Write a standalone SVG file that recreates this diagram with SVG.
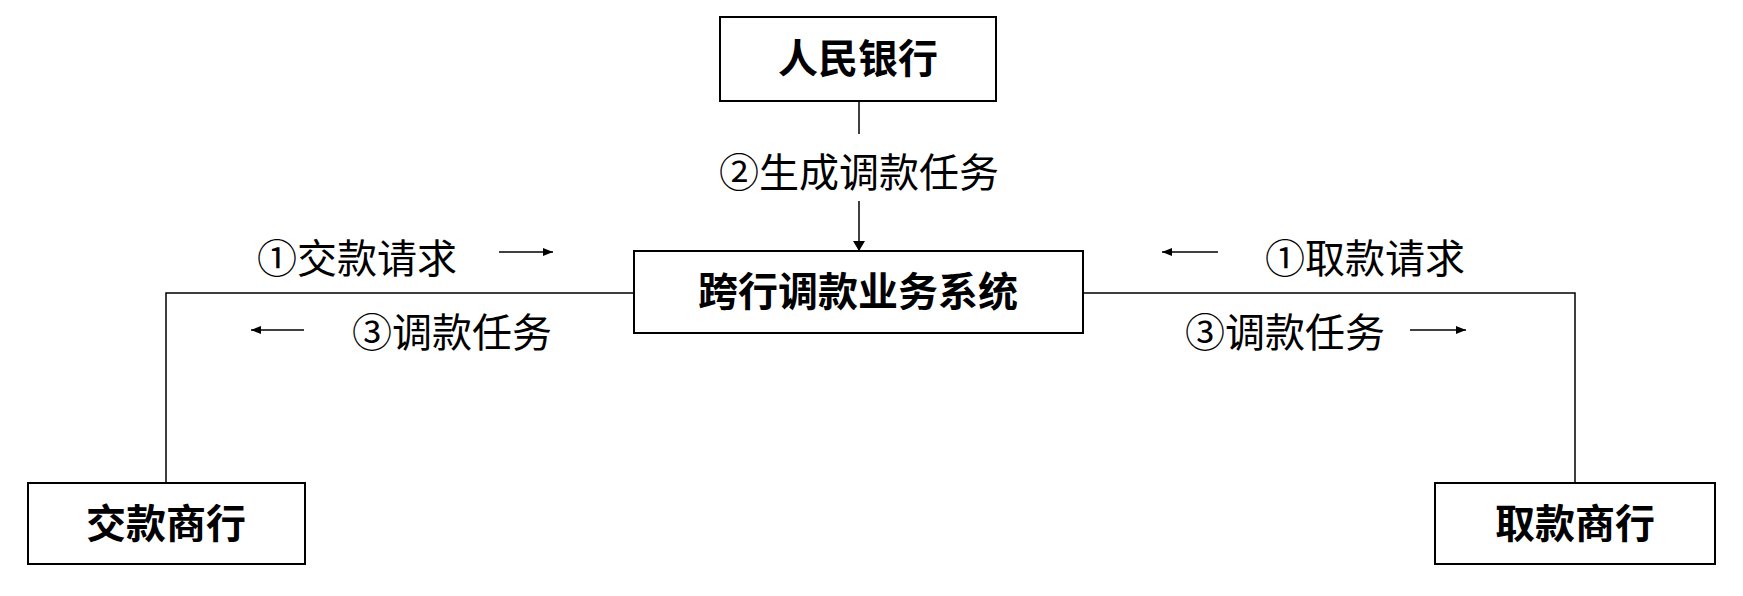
<svg xmlns="http://www.w3.org/2000/svg" width="1743" height="596" viewBox="0 0 1743 596">
<style>
.box{fill:#fff;stroke:#000;stroke-width:2}
.nt{font-family:"Liberation Sans","Noto Sans CJK SC",sans-serif;font-size:40px;font-weight:bold;text-anchor:middle;dominant-baseline:central}
.lb{font-family:"Liberation Sans","Noto Sans CJK SC",sans-serif;font-size:40px;text-anchor:middle;dominant-baseline:central}
.ln{stroke:#000;stroke-width:1.5;fill:none}
</style>
<defs>
<marker id="big" markerWidth="10" markerHeight="12" refX="10" refY="6" orient="auto" markerUnits="userSpaceOnUse" viewBox="0 0 10 12"><path d="M0,0L10,6L0,12z" fill="#000"/></marker>
<marker id="sm" markerWidth="10" markerHeight="10" refX="10" refY="5" orient="auto" markerUnits="userSpaceOnUse" viewBox="0 0 10 10"><path d="M0,1L10,5L0,9z" fill="#000"/></marker>
</defs>
<g id="connectors">
<line class="ln" x1="859" y1="101" x2="859" y2="134"/>
<line class="ln" x1="859" y1="201" x2="859" y2="251" marker-end="url(#big)"/>
<polyline class="ln" points="634,293 166,293 166,483"/>
<polyline class="ln" points="1083,293 1575,293 1575,483"/>
<line class="ln" x1="499" y1="252" x2="553" y2="252" marker-end="url(#sm)"/>
<line class="ln" x1="304" y1="330" x2="251" y2="330" marker-end="url(#sm)"/>
<line class="ln" x1="1218" y1="252" x2="1162" y2="252" marker-end="url(#sm)"/>
<line class="ln" x1="1410" y1="330" x2="1466" y2="330" marker-end="url(#sm)"/>
<text class="lb" x="859" y="173">②生成调款任务</text>
<text class="lb" x="357" y="259">①交款请求</text>
<text class="lb" x="452" y="333">③调款任务</text>
<text class="lb" x="1365" y="259">①取款请求</text>
<text class="lb" x="1285" y="333">③调款任务</text>
</g>
<g id="pboc"><rect class="box" x="720" y="17" width="276" height="84"/><text class="nt" x="858" y="59">人民银行</text></g>
<g id="system"><rect class="box" x="634" y="251" width="449" height="82"/><text class="nt" x="858" y="292">跨行调款业务系统</text></g>
<g id="deposit"><rect class="box" x="28" y="483" width="277" height="81"/><text class="nt" x="166" y="524">交款商行</text></g>
<g id="withdraw"><rect class="box" x="1435" y="483" width="280" height="81"/><text class="nt" x="1575" y="524">取款商行</text></g>
</svg>
